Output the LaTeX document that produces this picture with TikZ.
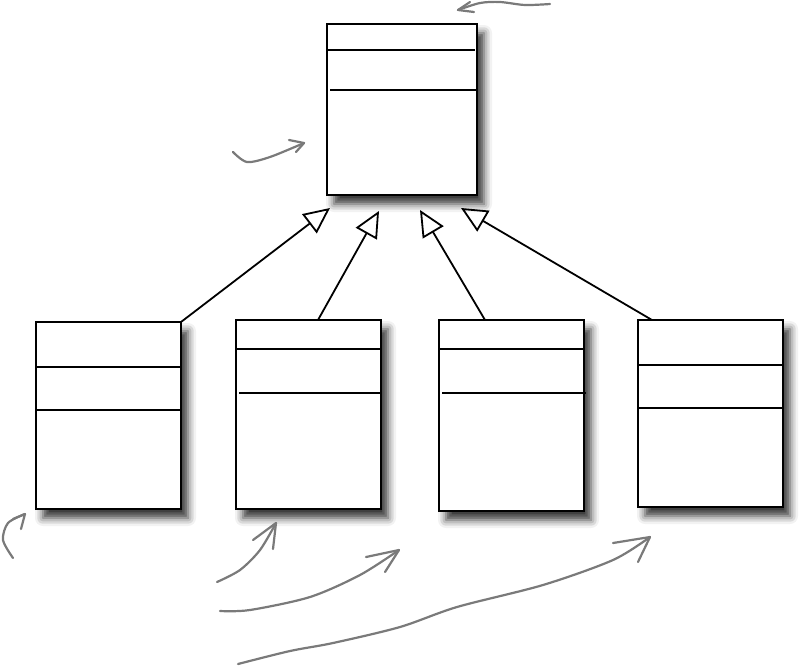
\documentclass[tikz,border=0pt]{standalone}
\usetikzlibrary{arrows.meta, positioning, calc, shadows.blur}

\begin{document}
\begin{tikzpicture}[
    x=1pt, y=-1pt,
    cls/.style={draw, line width=1.8pt, fill=white, inner sep=0pt,
                outer sep=0pt, minimum width=145pt,
                blur shadow={shadow xshift=7pt, shadow yshift=-9pt,
                             shadow blur radius=8pt, shadow opacity=80}},
    thickdiv/.style={line width=2.3pt},
    thindiv/.style={line width=1.2pt},
    inherit/.style={line width=1.8pt, -{Triangle[open, length=26pt, width=24pt]}},
    note/.style={draw=black!52, line width=2.2pt, line cap=round, line join=round}
  ]
  \useasboundingbox (0,0) rectangle (802,667);

  % superclass
  \node[cls, minimum width=150pt, minimum height=171pt] (super) at (402,109.5) {};
  \draw[thickdiv] ($(super.north west)+(0,26)$) -- ($(super.north east)+(-2,26)$);
  \draw[thickdiv] ($(super.north west)+(3,66)$) -- ($(super.north east)+(0,66)$);

  % subclasses
  \node[cls, minimum height=187pt] (subA) at (108.5,415.5) {};
  \draw[thickdiv] ($(subA.north west)+(0,45)$) -- ($(subA.north east)+(-1,45)$);
  \draw[thindiv] ($(subA.north west)+(0,88)$) -- ($(subA.north east)+(0,88)$);

  \node[cls, minimum height=189pt] (subB) at (308.5,414.5) {};
  \draw[thindiv] ($(subB.north west)+(0,29)$) -- ($(subB.north east)+(-1,29)$);
  \draw[thickdiv] ($(subB.north west)+(3,73)$) -- ($(subB.north east)+(1,73)$);

  \node[cls, line width=2.2pt, minimum height=191pt] (subC) at (511.5,415.5) {};
  \draw[thindiv] ($(subC.north west)+(0,29)$) -- ($(subC.north east)+(0,29)$);
  \draw[thindiv] ($(subC.north west)+(3,73)$) -- ($(subC.north east)+(2,73)$);

  \node[cls, line width=2pt, minimum height=187pt] (subD) at (710.5,413.5) {};
  \draw[thickdiv] ($(subD.north west)+(0,45)$) -- ($(subD.north east)+(0,45)$);
  \draw[thickdiv] ($(subD.north west)+(0,88)$) -- ($(subD.north east)+(0,88)$);

  % generalization arrows
  \draw[inherit] (subA.north east) -- ([xshift=-72pt, yshift=-13pt]super.south);
  \draw[inherit] ([xshift=9.5pt]subB.north) -- ([xshift=-23pt, yshift=-16pt]super.south);
  \draw[inherit] ([xshift=-26.5pt]subC.north) -- ([xshift=18pt, yshift=-15pt]super.south);
  \draw[inherit] ([xshift=14pt]subD.north west) -- ([xshift=59pt, yshift=-13pt]super.south);

  % hand-drawn pointers
  \draw[note] plot[smooth] coordinates {(550,4) (525,5) (500,2) (480,3) (458,10)};
  \draw[note] (470,2) -- (458,10) -- (474,12);

  \draw[note] plot[smooth] coordinates {(233,152) (247,162) (270,157) (304,143)};
  \draw[note] (289,140) -- (304,143) -- (296,152);

  \draw[note] plot[smooth] coordinates {(13,558) (3,540) (8,523) (25,514)};
  \draw[note] (13,519) -- (25,514) -- (21,529);

  \draw[note] plot[smooth] coordinates {(217,582) (240,570) (260,550) (276,523)};
  \draw[note] (253,540) -- (276,523) -- (273,549);

  \draw[note] plot[smooth] coordinates {(220,611) (250,610) (310,597) (360,575) (399,550)};
  \draw[note] (366,557) -- (399,550) -- (385,572);

  \draw[note] plot[smooth] coordinates {(238,664) (290,651) (333,643) (400,627)
    (457,607) (543,585) (613,560) (650,537)};
  \draw[note] (613,543) -- (650,537) -- (638,562);
\end{tikzpicture}
\end{document}
